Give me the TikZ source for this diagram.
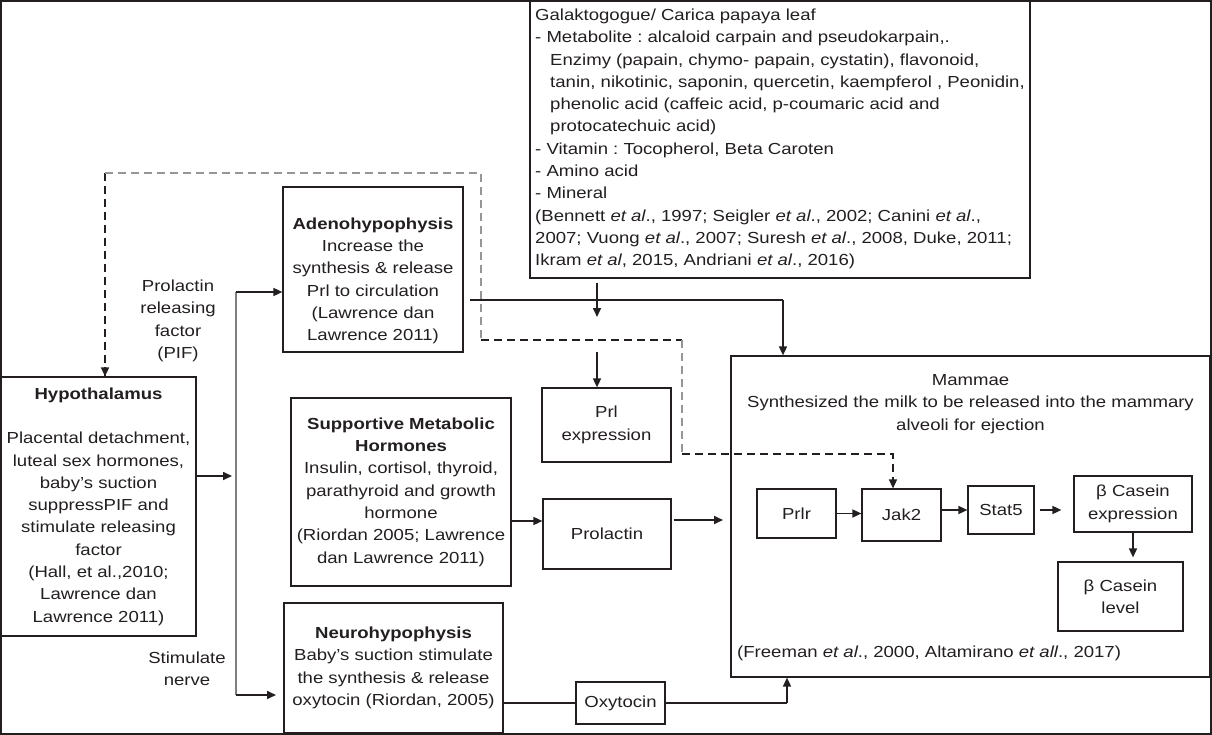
\documentclass[tikz,border=0pt]{standalone}
\usepackage{fontspec}
\setmainfont{Liberation Sans}[FakeStretch=1.16]
\usetikzlibrary{arrows.meta}
\definecolor{ink}{RGB}{35,31,32}
\definecolor{dgray}{RGB}{150,150,150}
\newcommand\myfs{\fontsize{16}{22.3}\selectfont\frenchspacing}
\begin{document}
\begin{tikzpicture}[x=1pt,y=-1pt,
  box/.style={draw=ink, line width=1.2pt, inner sep=0pt, align=center, text=ink, font=\myfs},
  txt/.style={inner sep=0pt, align=center, text=ink, font=\myfs},
  ln/.style={draw=ink, line width=1.1pt},
  arr/.style={draw=ink, line width=1.6pt, -{Triangle[length=9pt,width=8pt]}},
  dsh/.style={draw=ink, line width=1.5pt, dash pattern=on 8pt off 5pt},
  gdsh/.style={draw=dgray, line width=1.2pt, dash pattern=on 8pt off 5pt},
  tip/.style={-{Triangle[length=9pt,width=8pt]}}]
\useasboundingbox (0,0) rectangle (1212,735);
\fill[white] (0,0) rectangle (1212,735);
\draw[ink, line width=1.5pt] (1,1) rectangle (1211,734);

% boxes
\node[box, minimum width=500pt, minimum height=277pt] (galak) at (780,139.5) {};
\node[txt, align=left, anchor=west] (galakt) at (535,139) {Galaktogogue/ Carica papaya leaf\\
- Metabolite : alcaloid carpain and pseudokarpain,.\\
\hspace*{15pt}Enzimy (papain, chymo- papain, cystatin), flavonoid,\\
\hspace*{15pt}tanin, nikotinic, saponin, quercetin, kaempferol , Peonidin,\\
\hspace*{15pt}phenolic acid (caffeic acid, p-coumaric acid and\\
\hspace*{15pt}protocatechuic acid)\\
- Vitamin : Tocopherol, Beta Caroten\\
- Amino acid\\
- Mineral\\
(Bennett \textit{et al}., 1997; Seigler \textit{et al}., 2002; Canini \textit{et al}.,\\
2007; Vuong \textit{et al}., 2007; Suresh \textit{et al}., 2008, Duke, 2011;\\
Ikram \textit{et al}, 2015, Andriani \textit{et al}., 2016)};

\node[box, minimum width=195pt, minimum height=259pt] (hypo) at (98.5,506.5)
  {\textbf{Hypothalamus}\\[22.3pt]
   Placental detachment,\\luteal sex hormones,\\baby’s suction\\suppressPIF and\\stimulate releasing\\factor\\(Hall, et al.,2010;\\Lawrence dan\\Lawrence 2011)};

\node[box, minimum width=180pt, minimum height=165pt] (adeno) at (373,269.5) {};
\node[txt] (adenot) at (373,281) {\textbf{Adenohypophysis}\\Increase the\\synthesis \& release\\Prl to circulation\\(Lawrence dan\\Lawrence 2011)};

\node[box, minimum width=220pt, minimum height=188pt] (supp) at (401,492)
  {\textbf{Supportive Metabolic}\\\textbf{Hormones}\\Insulin, cortisol, thyroid,\\parathyroid and growth\\hormone\\(Riordan 2005; Lawrence\\dan Lawrence 2011)};

\node[box, minimum width=219pt, minimum height=130pt] (neuro) at (393.5,668)
  {\textbf{Neurohypophysis}\\Baby’s suction stimulate\\the synthesis \& release\\oxytocin (Riordan, 2005)};

\node[box, minimum width=129pt, minimum height=74pt] (prlexp) at (606.5,425) {Prl\\expression};
\node[box, minimum width=128pt, minimum height=70pt] (prolactin) at (607,534) {Prolactin};
\node[box, minimum width=89pt, minimum height=42pt] (oxy) at (620.5,703) {Oxytocin};

\node[box, minimum width=479pt, minimum height=321pt] (mammae) at (970.5,516.5) {};
\node[txt] (mammaet) at (970.5,404) {Mammae\\Synthesized the milk to be released into the mammary\\alveoli for ejection};
\node[txt, anchor=west] (freeman) at (737,653) {(Freeman \textit{et al}., 2000, Altamirano \textit{et all}., 2017)};

\node[box, minimum width=79pt, minimum height=49pt] (prlr) at (796.5,513.5) {Prlr};
\node[box, minimum width=79pt, minimum height=52pt] (jak2) at (901.5,515) {Jak2};
\node[box, minimum width=66pt, minimum height=48pt] (stat5) at (1001,510) {Stat5};
\node[box, minimum width=118pt, minimum height=56pt] (bcexp) at (1133,504) {β Casein\\expression};
\node[box, minimum width=125pt, minimum height=69pt] (bclev) at (1120.5,596.5) {β Casein\\level};

% labels
\node[txt] (pif) at (178,321) {Prolactin\\releasing\\factor\\(PIF)};
\node[txt] (stim) at (187,668.5) {Stimulate\\nerve};

% bus from hypothalamus
\coordinate (hyIn) at (232,476);
\coordinate (busT) at (236,292);
\coordinate (busB) at (236,695);
\coordinate (neIn) at (276,695);
\draw[arr] (hypo.east |- hyIn) -- (hyIn);
\draw[draw=dgray!80!ink, line width=1.2pt] (busT) -- (busB);
\draw[arr] (busT) -- (busT -| adeno.west);
\draw[arr] (busB) -- (neIn);

% adeno to mammae
\coordinate (adOut) at (470,300);
\coordinate (adC) at (783,300);
\draw[ln] (adOut) -- (adC);
\draw[arr] (adC) -- (adC |- mammae.north);

% galak arrows
\coordinate (g1) at (597,317);
\coordinate (g2) at (597,352);
\draw[arr] ([yshift=-4pt]galak.south -| g1) -- (g1);
\draw[arr] (g2) -- (g2 |- prlexp.north);

% supportive -> prolactin -> mammae
\coordinate (sp) at (0,521);
\coordinate (mIn) at (723,520);
\draw[arr] (supp.east |- sp) -- (prolactin.west |- sp);
\draw[arr] ([xshift=2pt]prolactin.east |- mIn) -- (mIn);

% neuro -> oxytocin -> mammae
\coordinate (oxC) at (787,703);
\draw[ln] (neuro.east |- oxy.west) -- (oxy.west);
\draw[ln] (oxy.east) -- (oxC);
\draw[arr] (oxC) -- (oxC |- mammae.south);

% pathway inside mammae
\draw[arr] (prlr.east) -- (prlr.east -| jak2.west);
\draw[arr] (jak2.east |- stat5.west) -- (stat5.west);
\draw[arr] ([xshift=5pt]stat5.east) -- ([xshift=-12pt]stat5.east -| bcexp.west);
\draw[arr] (bcexp.south) -- ([yshift=4pt]bcexp.south |- bclev.north);

% dashed feedback
\coordinate (d1) at (105,173);
\coordinate (d2) at (481,173);
\coordinate (d3) at (481,340);
\coordinate (d4) at (682,340);
\coordinate (d5) at (682,454);
\coordinate (d6) at (893,454);
\draw[dsh] (d1) -- (d1 |- hypo.north);
\draw[ink, tip, line width=1.5pt] ([yshift=9pt]d1 |- hypo.north) -- (d1 |- hypo.north);
\draw[gdsh] (d1) -- (d2) -- (d3);
\draw[dsh] (d3) -- (d4);
\draw[gdsh] (d4) -- (d5);
\draw[dsh] (d5) -- (d6) -- (d6 |- jak2.north);
\draw[ink, tip, line width=1.5pt] ([yshift=9pt]d6 |- jak2.north) -- (d6 |- jak2.north);
\end{tikzpicture}
\end{document}
